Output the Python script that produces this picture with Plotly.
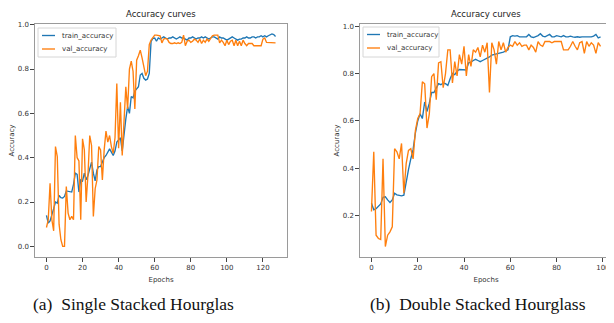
import plotly.graph_objects as go

# ---------------- data ----------------
left_epochs = list(range(128))
left_train = [
    0.14, 0.105, 0.115, 0.15, 0.17, 0.20, 0.195, 0.23, 0.22, 0.218,
    0.225, 0.25, 0.248, 0.245, 0.245, 0.28, 0.33, 0.325, 0.245, 0.30,
    0.295, 0.33, 0.30, 0.32, 0.355, 0.38, 0.33, 0.295, 0.345, 0.36,
    0.36, 0.38, 0.40, 0.41, 0.425, 0.44, 0.425, 0.41, 0.43, 0.47,
    0.48, 0.49, 0.43, 0.52, 0.575, 0.63, 0.60, 0.676, 0.67, 0.70,
    0.71, 0.72, 0.773, 0.78, 0.758, 0.75, 0.755, 0.78, 0.925, 0.938,
    0.94, 0.925, 0.94, 0.935, 0.94, 0.945, 0.94, 0.935, 0.94, 0.94,
    0.945, 0.94, 0.935, 0.94, 0.945, 0.94, 0.94, 0.935, 0.93, 0.94,
    0.94, 0.945, 0.94, 0.935, 0.94, 0.94, 0.945, 0.94, 0.945, 0.94,
    0.935, 0.94, 0.945, 0.945, 0.94, 0.935, 0.945, 0.94, 0.94, 0.935,
    0.93, 0.935, 0.94, 0.945, 0.94, 0.935, 0.93, 0.935, 0.935, 0.94,
    0.94, 0.945, 0.94, 0.94, 0.945, 0.945, 0.94, 0.945, 0.945, 0.95,
    0.945, 0.95, 0.945, 0.95, 0.955, 0.958, 0.955, 0.947,
]
left_val = [
    0.085, 0.12, 0.285, 0.12, 0.07, 0.45, 0.405, 0.10, 0.03, 0.0,
    0.0, 0.27, 0.15, 0.12, 0.135, 0.12, 0.50, 0.40, 0.385, 0.12,
    0.485, 0.435, 0.20, 0.32, 0.50, 0.455, 0.135, 0.26, 0.30, 0.45,
    0.435, 0.30, 0.435, 0.52, 0.47, 0.50, 0.45, 0.42, 0.49, 0.735,
    0.443, 0.65, 0.41, 0.59, 0.72, 0.62, 0.80, 0.835, 0.79, 0.62,
    0.84, 0.86, 0.885, 0.85, 0.80, 0.77, 0.79, 0.91, 0.93, 0.945,
    0.953, 0.953, 0.953, 0.95, 0.918, 0.935, 0.938, 0.935, 0.92, 0.915,
    0.915, 0.918, 0.915, 0.918, 0.915, 0.92, 0.953, 0.905, 0.925, 0.93,
    0.92, 0.925, 0.935, 0.93, 0.92, 0.935, 0.915, 0.93, 0.92, 0.935,
    0.925, 0.94, 0.95, 0.953, 0.953, 0.953, 0.918, 0.93, 0.92, 0.905,
    0.93, 0.91, 0.925, 0.93, 0.905, 0.93, 0.905, 0.925, 0.905, 0.93,
    0.915, 0.905, 0.915, 0.915, 0.915, 0.905, 0.905, 0.905, 0.905, 0.905,
    0.935, 0.94, 0.92, 0.92, 0.92, 0.918, 0.92, 0.918,
]

right_epochs = list(range(100))
right_train = [
    0.253, 0.225, 0.23, 0.24, 0.25, 0.278, 0.28, 0.267, 0.256, 0.267,
    0.295, 0.288, 0.287, 0.284, 0.287, 0.35, 0.395, 0.44, 0.48, 0.55,
    0.60, 0.63, 0.61, 0.68, 0.64, 0.675, 0.72, 0.72, 0.74, 0.757,
    0.753, 0.76, 0.757, 0.75, 0.778, 0.80, 0.795, 0.81, 0.817, 0.817,
    0.817, 0.815, 0.845, 0.848, 0.855, 0.86, 0.855, 0.85, 0.855, 0.86,
    0.862, 0.87, 0.878, 0.88, 0.882, 0.885, 0.887, 0.89, 0.895, 0.90,
    0.955, 0.96, 0.958, 0.96, 0.955, 0.955, 0.953, 0.955, 0.965, 0.955,
    0.952, 0.955, 0.96, 0.968, 0.958, 0.955, 0.96, 0.965, 0.955, 0.955,
    0.96, 0.958, 0.955, 0.96, 0.955, 0.955, 0.958, 0.955, 0.953, 0.955,
    0.953, 0.955, 0.955, 0.953, 0.955, 0.955, 0.958, 0.965, 0.95, 0.955,
]
right_val = [
    0.218, 0.47, 0.118, 0.104, 0.10, 0.44, 0.07, 0.118, 0.132, 0.153,
    0.483, 0.47, 0.44, 0.505, 0.295, 0.42, 0.476, 0.483, 0.44, 0.56,
    0.61, 0.63, 0.765, 0.757, 0.57, 0.63, 0.787, 0.80, 0.69, 0.845,
    0.85, 0.74, 0.80, 0.90, 0.90, 0.76, 0.85, 0.79, 0.88, 0.84,
    0.915, 0.79, 0.88, 0.83, 0.90, 0.89, 0.91, 0.87, 0.92, 0.89,
    0.93, 0.72, 0.93, 0.90, 0.84, 0.935, 0.90, 0.93, 0.89, 0.91,
    0.92, 0.915, 0.935, 0.92, 0.93, 0.915, 0.92, 0.92, 0.90, 0.92,
    0.91, 0.89, 0.935, 0.92, 0.915, 0.935, 0.935, 0.935, 0.93, 0.935,
    0.935, 0.935, 0.935, 0.90, 0.90, 0.90, 0.915, 0.935, 0.915, 0.90,
    0.93, 0.935, 0.885, 0.935, 0.915, 0.93, 0.92, 0.885, 0.93, 0.915,
]

y_ticks_left = [0.0, 0.2, 0.4, 0.6, 0.8, 1.0]
y_ticks_right = [0.2, 0.4, 0.6, 0.8, 1.0]
x_ticks_left = [0, 20, 40, 60, 80, 100, 120]
x_ticks_right = [0, 20, 40, 60, 80, 100]
series_names = ["train_accuracy", "val_accuracy"]
captions = ["(a)\u00a0 Single Stacked Hourglas", "(b)\u00a0 Double Stacked Hourglass"]
title_text = "Accuracy curves"

# ---------------- figure ----------------
# The page body has an 8px default margin, so the figure is drawn 8px
# smaller and all layout pixel positions (measured in window pixels) are offset.
OFF = 8
W, H = 614 - OFF, 323 - OFF
BLUE, ORANGE = "#1f77b4", "#ff7f0e"
COLORS = [BLUE, ORANGE]
FONT = "DejaVu Sans"

fig = go.Figure()
fig.add_trace(go.Scatter(x=left_epochs, y=left_train, name=series_names[0], mode="lines",
                         line=dict(color=BLUE, width=1.35), xaxis="x", yaxis="y", showlegend=False))
fig.add_trace(go.Scatter(x=left_epochs, y=left_val, name=series_names[1], mode="lines",
                         line=dict(color=ORANGE, width=1.35), xaxis="x", yaxis="y", showlegend=False))
fig.add_trace(go.Scatter(x=right_epochs, y=right_train, name=series_names[0], mode="lines",
                         line=dict(color=BLUE, width=1.35), xaxis="x2", yaxis="y2", showlegend=False))
fig.add_trace(go.Scatter(x=right_epochs, y=right_val, name=series_names[1], mode="lines",
                         line=dict(color=ORANGE, width=1.35), xaxis="x2", yaxis="y2", showlegend=False))

def px_x(p):
    return (p - OFF) / W

def px_y(p):
    return 1 - (p - OFF) / H

axis_common = dict(showline=True, linecolor="#9a9a9a", linewidth=1.2, mirror=True,
                   showgrid=False, zeroline=False, ticks="outside", ticklen=3.5, automargin=False,
                   tickwidth=0.8, tickcolor="#444", tickfont=dict(family=FONT, size=7, color="#333"))

L0, L1, R0, R1 = 35, 287, 360, 612
TOP, BOT = 24, 257

fig.update_layout(
    width=W, height=H, margin=dict(l=0, r=0, t=0, b=0, autoexpand=False),
    paper_bgcolor="white", plot_bgcolor="white",
    font=dict(family=FONT, color="#333"),
    showlegend=False,
    xaxis=dict(domain=[px_x(L0), px_x(L1)], anchor="y", range=[-6.35, 133.35],
               tickvals=x_ticks_left, tickformat="d",
               title=dict(text="Epochs", font=dict(size=7, color="#333"), standoff=6), **axis_common),
    yaxis=dict(domain=[px_y(BOT), px_y(TOP)], anchor="x", range=[-0.048, 1.003],
               tickvals=y_ticks_left, tickformat=".1f",
               title=dict(text="Accuracy", font=dict(size=7, color="#333"), standoff=2), **axis_common),
    xaxis2=dict(domain=[px_x(R0), px_x(R1)], anchor="y2", range=[-4.95, 103.95],
                tickvals=x_ticks_right, tickformat="d",
                title=dict(text="Epochs", font=dict(size=7, color="#333"), standoff=6), **axis_common),
    yaxis2=dict(domain=[px_y(BOT), px_y(TOP)], anchor="x2", range=[0.026, 1.009],
                tickvals=y_ticks_right, tickformat=".1f",
                title=dict(text="Accuracy", font=dict(size=7, color="#333"), standoff=2), **axis_common),
)

annotations = [
    dict(text=title_text, x=px_x((L0 + L1) / 2), y=px_y(14), xref="paper", yref="paper",
         showarrow=False, font=dict(family=FONT, size=8.5, color="#222"), xanchor="center", yanchor="middle"),
    dict(text=title_text, x=px_x((R0 + R1) / 2), y=px_y(14), xref="paper", yref="paper",
         showarrow=False, font=dict(family=FONT, size=8.5, color="#222"), xanchor="center", yanchor="middle"),
    dict(text=captions[0], x=px_x(133), y=px_y(304), xref="paper", yref="paper",
         showarrow=False, font=dict(family="Liberation Serif", size=17.5, color="#111"),
         xanchor="center", yanchor="middle"),
    dict(text=captions[1], x=px_x(478), y=px_y(304), xref="paper", yref="paper",
         showarrow=False, font=dict(family="Liberation Serif", size=17.5, color="#111"),
         xanchor="center", yanchor="middle"),
]

# matplotlib-style legends (box, line samples, labels), one per panel
shapes = []
legend_boxes = [(38, 116, 28, 57), (363, 439, 27, 57)]
for (bx0, bx1, by0, by1) in legend_boxes:
    shapes.append(dict(type="rect", xref="paper", yref="paper",
                       x0=px_x(bx0), x1=px_x(bx1), y0=px_y(by1), y1=px_y(by0),
                       line=dict(color="#d6d6d6", width=1), fillcolor="rgba(255,255,255,0.85)", layer="above"))
    for i, name in enumerate(series_names):
        ry = by0 + 7.5 + i * 13.5
        shapes.append(dict(type="line", xref="paper", yref="paper",
                           x0=px_x(bx0 + 4), x1=px_x(bx0 + 17), y0=px_y(ry), y1=px_y(ry),
                           line=dict(color=COLORS[i], width=1.35), layer="above"))
        annotations.append(dict(text=name, x=px_x(bx0 + 22), y=px_y(ry), xref="paper", yref="paper",
                                showarrow=False, xanchor="left", yanchor="middle",
                                font=dict(family=FONT, size=7, color="#333")))

fig.update_layout(annotations=annotations, shapes=shapes)

fig.write_html("out.html")
